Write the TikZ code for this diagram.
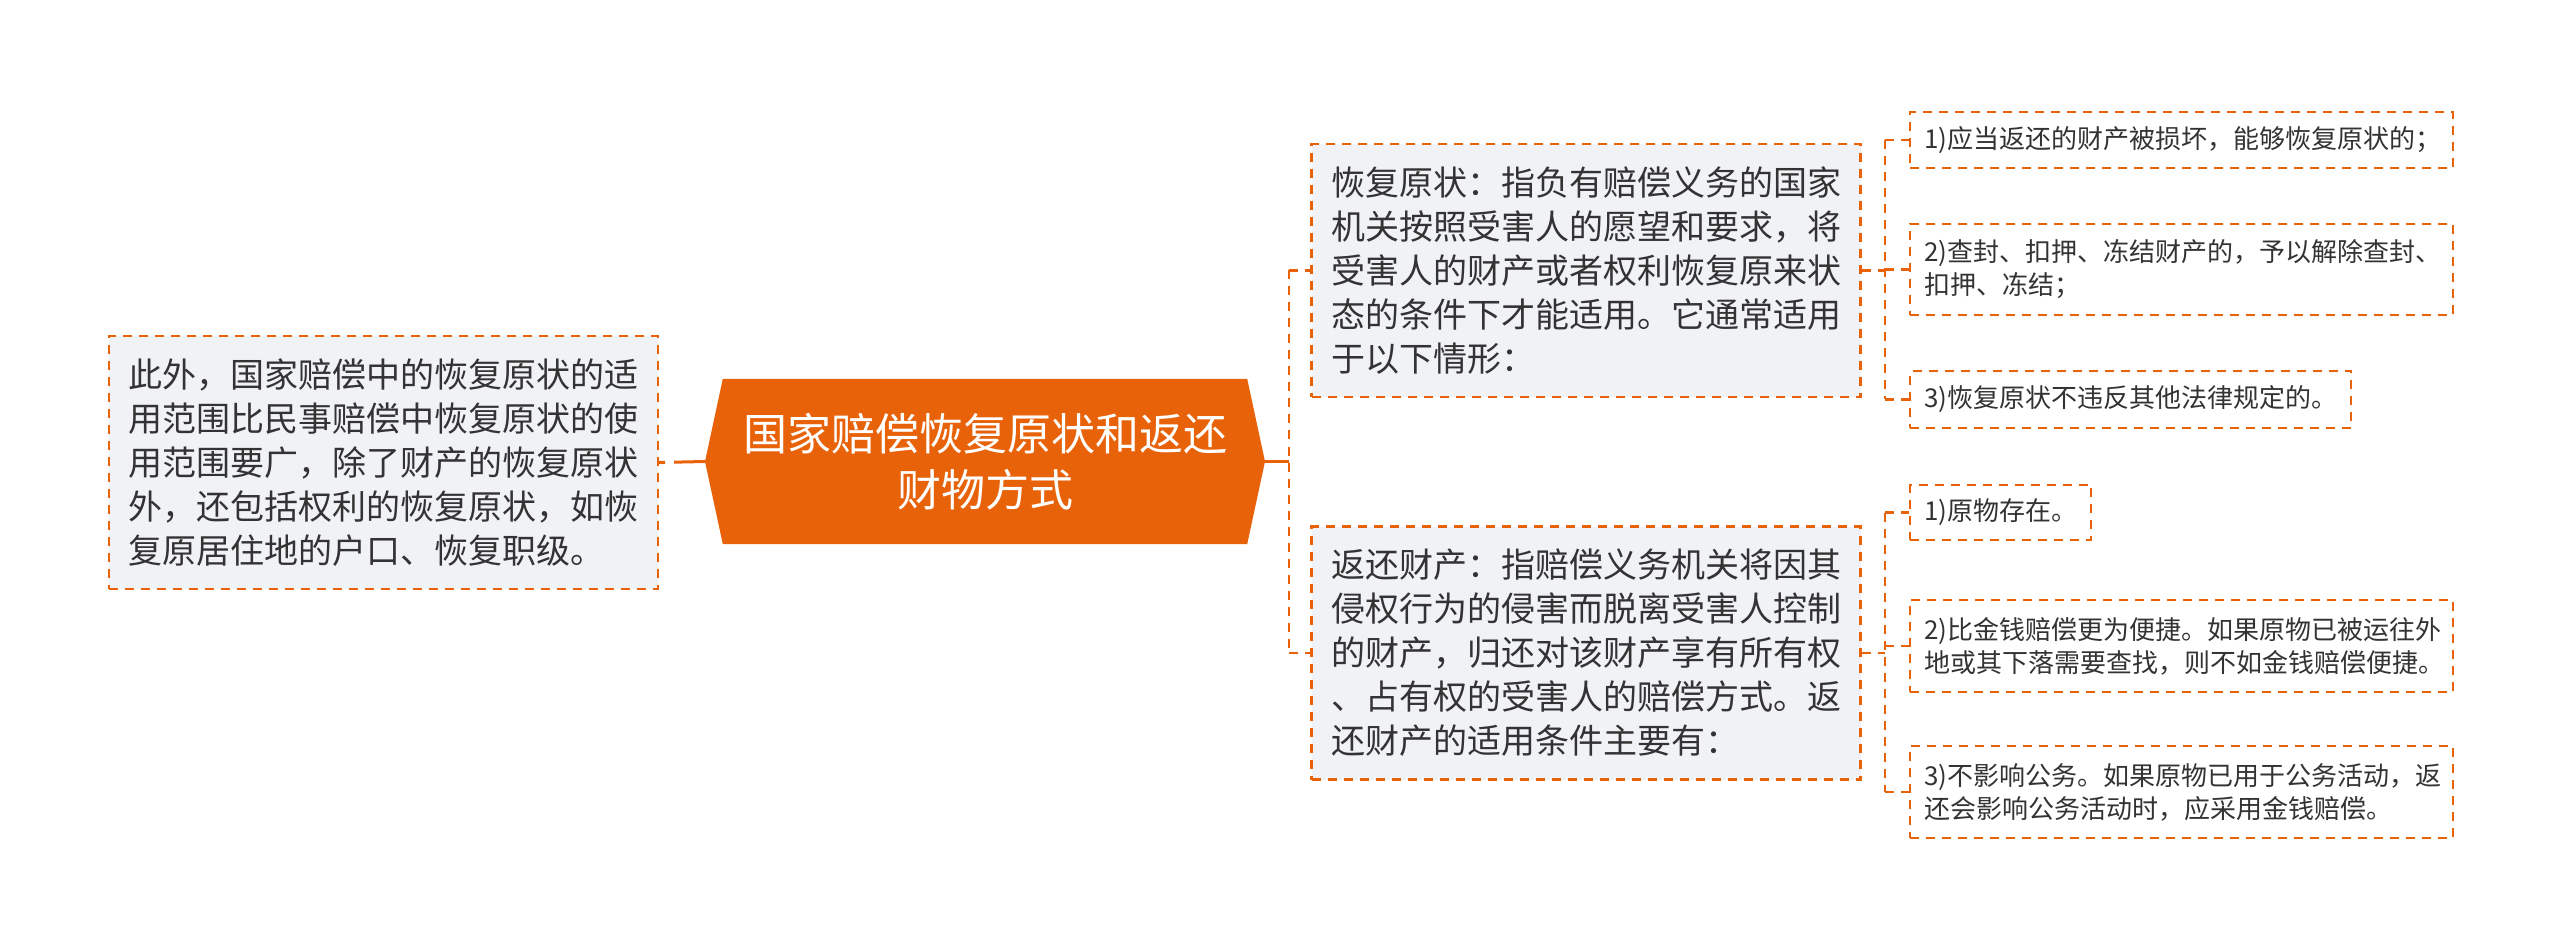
\documentclass[tikz,border=0pt]{standalone}
\usepackage{fontspec}
\setmainfont{Noto Sans CJK SC}
\usetikzlibrary{backgrounds}
\definecolor{org}{RGB}{232,98,10}
\definecolor{boxfill}{RGB}{240,242,245}
\definecolor{txt}{RGB}{51,51,51}
\tikzset{
  lvbox/.style={draw=org, line width=2.2pt, dash pattern=on 9pt off 7pt, fill=boxfill,
    text=txt, font=\fontsize{34}{44}\selectfont, align=left, text width=510pt,
    inner xsep=19.5pt, inner ysep=0pt, minimum height=253pt},
  leafbox/.style={draw=org, line width=2.2pt, dash pattern=on 9pt off 7pt, fill=white,
    text=txt, font=\fontsize{26}{33}\selectfont, align=left,
    inner xsep=14pt, inner ysep=0pt, anchor=west},
  conn/.style={draw=org, line width=2.4pt, dash pattern=on 9pt off 7pt},
  mainconn/.style={draw=org, line width=3pt}
}
\begin{document}
\begin{tikzpicture}[x=1pt,y=-1pt]
\useasboundingbox (0,0) rectangle (2560,949);
% root
\node[text=white, font=\fontsize{44}{56}\selectfont, align=center,
  minimum width=524pt, minimum height=165pt, inner sep=0pt] (root) at (985,461.5)
  {国家赔偿恢复原状和返还\\财物方式};
\coordinate (rootW) at (705,461.5);
\coordinate (rootE) at (1265,461.5);
\begin{pgfonlayer}{background}
\fill[org] (root.north west) -- (root.north east) -- (rootE) -- (root.south east)
  -- (root.south west) -- (rootW) -- cycle;
\end{pgfonlayer}
% left
\node[lvbox] (left) at (383.5,462.5)
  {此外，国家赔偿中的恢复原状的适\\用范围比民事赔偿中恢复原状的使\\用范围要广，除了财产的恢复原状\\外，还包括权利的恢复原状，如恢\\复原居住地的户口、恢复职级。};
% right level 1
\node[lvbox] (b1) at (1586,270.5)
  {恢复原状：指负有赔偿义务的国家\\机关按照受害人的愿望和要求，将\\受害人的财产或者权利恢复原来状\\态的条件下才能适用。它通常适用\\于以下情形：};
\node[lvbox] (b2) at (1586,653)
  {返还财产：指赔偿义务机关将因其\\侵权行为的侵害而脱离受害人控制\\的财产，归还对该财产享有所有权\\、占有权的受害人的赔偿方式。返\\还财产的适用条件主要有：};
% leaves of b1
\node[leafbox, text width=515pt, minimum height=56pt] (c1) at (1909,140)
  {1)应当返还的财产被损坏，能够恢复原状的；};
\node[leafbox, text width=515pt, minimum height=91pt] (c2) at (1909,269.5)
  {2)查封、扣押、冻结财产的，予以解除查封、\\扣押、冻结；};
\node[leafbox, minimum height=57pt] (c3) at (1909,399.5)
  {3)恢复原状不违反其他法律规定的。};
% leaves of b2
\node[leafbox, minimum height=55pt] (d1) at (1909,512.5)
  {1)原物存在。};
\node[leafbox, text width=515pt, minimum height=92pt] (d2) at (1909,646)
  {2)比金钱赔偿更为便捷。如果原物已被运往外\\地或其下落需要查找，则不如金钱赔偿便捷。};
\node[leafbox, text width=515pt, minimum height=92pt] (d3) at (1909,792)
  {3)不影响公务。如果原物已用于公务活动，返\\还会影响公务活动时，应采用金钱赔偿。};
% bracket coordinates
\coordinate (lb) at (1289,0);
\coordinate (rb) at (1885,0);
% connectors
\draw[mainconn, dash pattern=on 6pt off 9pt on 200pt off 1pt] (left.east) -- (rootW);
\draw[mainconn, line width=2.4pt] (rootE) -- (rootE -| lb);
\draw[conn] (b1.west -| lb) -- (b2.west -| lb);
\draw[conn] (b1.west -| lb) -- (b1.west);
\draw[conn] (b2.west -| lb) -- (b2.west);
\draw[conn] (b1.east) -- (b1.east -| rb);
\draw[conn] (c1.west -| rb) -- (c3.west -| rb);
\draw[conn] (c1.west -| rb) -- (c1.west);
\draw[conn] (c2.west -| rb) -- (c2.west);
\draw[conn] (c3.west -| rb) -- (c3.west);
\draw[conn] (b2.east) -- (b2.east -| rb);
\draw[conn] (d1.west -| rb) -- (d3.west -| rb);
\draw[conn] (d1.west -| rb) -- (d1.west);
\draw[conn] (d2.west -| rb) -- (d2.west);
\draw[conn] (d3.west -| rb) -- (d3.west);
\end{tikzpicture}
\end{document}
